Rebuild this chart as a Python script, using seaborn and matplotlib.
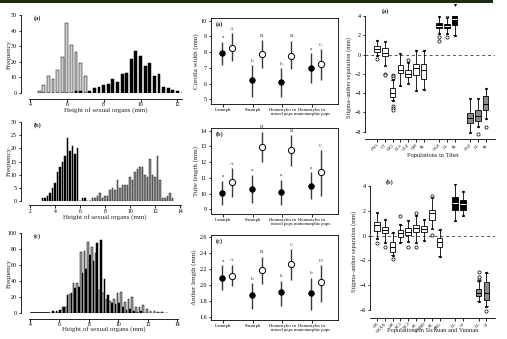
import matplotlib
matplotlib.use("Agg")
import matplotlib.pyplot as plt
from matplotlib.patches import Rectangle
import numpy as np
import pandas as pd
import seaborn as sns

# ---------------- histogram data: bin centres (mm) and counts ----------------
hist_a_light_x = [4.5, 4.75, 5.0, 5.25, 5.5, 5.75, 6.0, 6.25, 6.5, 6.75, 7.0]
hist_a_light_n = [1, 5, 11, 9, 15, 23, 45, 31, 26, 19, 11]
hist_a_dark_x = [6.5, 6.75, 7.25, 7.5, 7.75, 8.0, 8.25, 8.5, 8.75, 9.0, 9.25, 9.5,
                 9.75, 10.0, 10.25, 10.5, 10.75, 11.0, 11.25, 11.5, 11.75, 12.0]
hist_a_dark_n = [1, 1, 1, 3, 4, 5, 6, 9, 7, 12, 13, 22, 27, 24, 17, 19, 11, 12, 4, 3, 2, 1]

hist_b_dark_x = [3.0, 3.2, 3.4, 3.6, 3.8, 4.0, 4.2, 4.4, 4.6, 4.8, 5.0, 5.2, 5.4, 5.6,
                 5.8, 6.2, 6.4]
hist_b_dark_n = [1, 1, 2, 3, 5, 7, 11, 13, 15, 17, 24, 19, 21, 18, 20, 1, 1]
hist_b_grey_x = [7.0, 7.2, 7.4, 7.6, 7.8, 8.0, 8.2, 8.4, 8.6, 8.8, 9.0, 9.2, 9.4, 9.6,
                 9.8, 10.0, 10.2, 10.4, 10.6, 10.8, 11.0, 11.2, 11.4, 11.6, 11.8, 12.0,
                 12.2, 12.4, 12.6, 12.8, 13.0, 13.2, 13.4]
hist_b_grey_n = [1, 1, 2, 3, 1, 2, 2, 4, 5, 4, 8, 5, 6, 6, 6, 9, 8, 11, 12, 13, 13, 10,
                 9, 16, 10, 9, 17, 8, 1, 1, 2, 3, 1]

hist_c_x = [5.5, 5.75, 6.0, 6.25, 6.5, 6.75, 7.0, 7.25, 7.5, 7.75, 8.0, 8.25, 8.5, 8.75,
            9.0, 9.25, 9.5, 9.75, 10.0, 10.25, 10.5, 10.75, 11.0, 11.25, 11.5, 11.75,
            12.0, 12.25, 12.5, 12.75, 13.0, 13.25]
hist_c_grey_n = [0, 0, 1, 7, 7, 24, 38, 37, 76, 78, 89, 83, 75, 29, 25, 18, 15, 18, 25,
                 26, 14, 17, 20, 8, 8, 10, 5, 3, 2, 1, 1, 0]
hist_c_dark_n = [2, 2, 4, 7, 23, 25, 31, 32, 50, 55, 73, 65, 87, 91, 43, 22, 12, 11, 13,
                 8, 4, 5, 2, 1, 2, 0, 0, 0, 0, 0, 0, 0]

# ---------------- floral traits by morph (mean and range) ----------------
groups = ["L-morph", "S-morph", "Homostyles in\nmixed pops", "Homostyles in\nmonomorphic pops"]

corolla_f = [7.92, 6.21, 6.08, 6.97]
corolla_f_lo = [7.18, 5.17, 5.13, 6.02]
corolla_f_hi = [8.67, 7.18, 6.97, 7.92]
corolla_o = [8.28, 7.86, 7.78, 7.25]
corolla_o_lo = [7.46, 6.97, 6.90, 6.23]
corolla_o_hi = [9.19, 8.77, 8.73, 8.18]
corolla_f_let = ["a", "b", "b", "a"]
corolla_o_let = ["A", "B", "B", "C"]

tube_f = [10.06, 10.32, 10.10, 10.47]
tube_f_lo = [9.28, 9.43, 9.30, 9.64]
tube_f_hi = [10.83, 11.20, 10.87, 11.34]
tube_o = [10.76, 12.96, 12.77, 11.36]
tube_o_lo = [9.77, 11.98, 11.76, 9.85]
tube_o_hi = [11.60, 13.94, 13.72, 12.77]
tube_f_let = ["a", "a", "a", "a"]
tube_o_let = ["A", "B", "B", "C"]

anther_f = [2.09, 1.87, 1.91, 1.90]
anther_f_lo = [1.93, 1.70, 1.74, 1.68]
anther_f_hi = [2.24, 2.02, 2.05, 2.09]
anther_o = [2.11, 2.18, 2.26, 2.03]
anther_o_lo = [1.99, 2.01, 2.06, 1.79]
anther_o_hi = [2.25, 2.35, 2.44, 2.24]
anther_f_let = ["a", "b", "b", "b"]
anther_o_let = ["A", "B", "C", "D"]

# ---------------- stigma-anther separation per population ----------------
tib_labels = ["CW1", "CT", "DZ1", "DL1", "GLZ", "QM", "SL", "GGZ", "LL", "SL", "GGZ", "LL", "SL"]
tib_pos = [0, 1, 2, 3, 4, 5, 6, 8, 9, 10, 12, 13, 14]
tib_kind = ["w"] * 7 + ["k"] * 3 + ["g"] * 3
tib_q1 = [0.3, -0.2, -4.4, -1.95, -2.35, -2.1, -2.5, 2.75, 2.75, 3.1, -7.15, -6.85, -5.75]
tib_med = [0.6, 0.15, -4.0, -1.6, -2.0, -1.4, -1.6, 3.0, 2.95, 3.65, -6.6, -6.4, -5.1]
tib_q3 = [0.9, 0.65, -3.5, -1.1, -1.6, -1.0, -1.0, 3.25, 3.15, 4.4, -6.1, -5.75, -4.3]
tib_lo = [0.0, -1.1, -4.75, -3.2, -3.0, -3.7, -3.6, 2.2, 2.2, 2.05, -8.0, -7.4, -6.6]
tib_hi = [1.4, 1.35, -2.6, 0.1, -0.9, 0.4, 0.4, 3.9, 3.75, 5.1, -4.65, -4.65, -3.6]
tib_fliers = [[-0.45], [-2.0, -2.15], [-2.1, -2.25, -2.4, -5.3, -5.5, -5.7], [], [-0.6],
              [], [], [1.85, 1.4], [4.1, 4.35, 1.8], [], [], [-8.25], [-7.5]]

sy_labels = ["DR", "DKXX", "HZ", "KC1", "KC2", "KL", "MXBD", "XC", "ZBG", "DL", "LJ", "DL", "LJ"]
sy_pos = [0, 1, 2, 3, 4, 5, 6, 7, 8, 10, 11, 13, 14]
sy_kind = ["w"] * 9 + ["k"] * 2 + ["g"] * 2
sy_q1 = [0.4, 0.2, -1.3, -0.1, 0.05, 0.32, 0.32, 1.26, -0.9, 2.07, 2.07, -4.86, -5.2]
sy_med = [0.85, 0.45, -0.9, 0.25, 0.3, 0.6, 0.5, 1.8, -0.48, 2.6, 2.55, -4.6, -4.65]
sy_q3 = [1.13, 0.72, -0.55, 0.45, 0.6, 0.86, 0.78, 2.07, -0.2, 3.1, 2.87, -4.32, -3.75]
sy_lo = [-0.2, -0.5, -1.6, -0.5, -0.4, -0.5, -0.35, 0.6, -1.65, 1.26, 1.65, -5.3, -5.7]
sy_hi = [1.8, 1.26, 0.25, 0.85, 1.2, 1.6, 1.26, 3.0, 0.45, 4.1, 3.55, -3.7, -3.05]
sy_fliers = [[-0.6], [-0.9], [-1.9], [1.55], [-0.95], [1.8, -0.95], [], [3.2, 0.05], [],
             [], [], [-3.35, -3.55, -2.95], [-6.1]]

# ---------------- figure ----------------
sns.set_theme(style="ticks")
plt.rcParams["font.family"] = ["Liberation Serif", "DejaVu Serif"]
plt.rcParams.update({
    "font.size": 4.5, "axes.labelsize": 5, "xtick.labelsize": 4.3, "ytick.labelsize": 4.3,
    "axes.linewidth": 0.6, "xtick.major.width": 0.6, "ytick.major.width": 0.6,
    "xtick.major.size": 1.8, "ytick.major.size": 1.8,
    "xtick.major.pad": 1.2, "ytick.major.pad": 1.2, "axes.labelpad": 1.5,
    "axes.edgecolor": "black", "xtick.color": "black", "ytick.color": "black",
})

W, H = 507, 339
fig = plt.figure(figsize=(W / 100, H / 100), dpi=100)
fig.patch.set_facecolor("white")
fig.patches.append(Rectangle((0, 1 - 2.5 / H), 493 / W, 2.5 / H, transform=fig.transFigure,
                             facecolor="#1e2a12", edgecolor="none"))


def px_axes(x0, y0, x1, y1):
    return fig.add_axes([x0 / W, 1 - y1 / H, (x1 - x0) / W, (y1 - y0) / H])


def counts_frame(x, n):
    return pd.DataFrame({"x": x, "n": n})


def hist_style(ax, xlim, xticks, ylim, yticks, label, xlab_y, left_off=6, bottom_off=4):
    ax.set_xlim(*xlim)
    ax.set_ylim(*ylim)
    ax.set_xticks(xticks)
    ax.set_yticks(yticks)
    sns.despine(ax=ax)
    ax.spines["left"].set_position(("outward", left_off))
    ax.spines["bottom"].set_position(("outward", bottom_off))
    ax.tick_params(axis="x", pad=0.8, labelsize=4.1)
    ax.set_xlabel("Height of sexual organs (mm)")
    ax.xaxis.set_label_coords(0.5, xlab_y)
    ax.set_ylabel("Frequency")
    ax.yaxis.set_label_coords(-0.115, 0.5)
    ax.text(0.03, 1.0, label, transform=ax.transAxes, fontsize=4.5, fontweight="bold",
            va="top", ha="left")
    ax.patch.set_alpha(0)


# ---- histogram (a)
ax = px_axes(29, 15, 182, 93)
bins_a = dict(binwidth=0.25, binrange=(4.375, 12.375))
sns.histplot(data=counts_frame(hist_a_light_x, hist_a_light_n), x="x", weights="n",
             shrink=0.62, color="#cfcfcf", edgecolor="black", linewidth=0.35,
             alpha=1, ax=ax, **bins_a)
sns.histplot(data=counts_frame(hist_a_dark_x, hist_a_dark_n), x="x", weights="n",
             shrink=0.62, color="black", edgecolor="black", linewidth=0.35,
             alpha=1, ax=ax, **bins_a)
ax.plot([4.0, 4.4], [0.3, 0.3], color="black", lw=0.6)
hist_style(ax, (3.95, 12.25), [4, 6, 8, 10, 12], (0, 50), [0, 10, 20, 30, 40, 50], "(a)",
           -0.175)

# ---- histogram (b)
ax = px_axes(29, 122, 181, 201)
bins_b = dict(binwidth=0.2, binrange=(2.9, 13.5))
sns.histplot(data=counts_frame(hist_b_dark_x, hist_b_dark_n), x="x", weights="n",
             shrink=0.7, color="black", edgecolor="black", linewidth=0.35,
             alpha=1, ax=ax, **bins_b)
sns.histplot(data=counts_frame(hist_b_grey_x, hist_b_grey_n), x="x", weights="n",
             shrink=0.7, color="#8a8a8a", edgecolor="#222222", linewidth=0.35,
             alpha=1, ax=ax, **bins_b)
hist_style(ax, (1.92, 14.08), [2, 4, 6, 8, 10, 12, 14], (0, 30), [0, 5, 10, 15, 20, 25, 30],
           "(b)", -0.17, bottom_off=3)

# ---- histogram (c)
ax = px_axes(29, 233, 178, 313)
df_c = pd.DataFrame({
    "x": hist_c_x * 2,
    "n": hist_c_grey_n + hist_c_dark_n,
    "organ": ["grey"] * len(hist_c_x) + ["dark"] * len(hist_c_x),
})
sns.histplot(data=df_c, x="x", weights="n", hue="organ", hue_order=["grey", "dark"],
             palette={"grey": "#a6a6a6", "dark": "black"}, multiple="dodge",
             binwidth=0.25, binrange=(5.375, 13.375),
             shrink=0.9, edgecolor="black", linewidth=0.35, alpha=1, legend=False, ax=ax)
ax.plot([4.0, 5.3], [0.8, 0.8], color="black", lw=0.6)
hist_style(ax, (3.93, 14.05), [4, 6, 8, 10, 12, 14], (0, 100), [0, 20, 40, 60, 80, 100], "(c)",
           -0.165)


# ---------------- middle column: means with ranges ----------------
def trait_panel(ax, fm, flo, fhi, om, olo, ohi, flet, olet, ylim, yticks, ylabel, label, fmt):
    xf = np.arange(len(groups)) - 0.03
    xo = np.arange(len(groups)) + 0.3
    ax.vlines(xf, flo, fhi, color="#3a3a3a", lw=1.0, zorder=1)
    ax.vlines(xo, olo, ohi, color="#3a3a3a", lw=1.0, zorder=1)
    sns.scatterplot(x=xf, y=fm, s=16, color="black", edgecolor="black", linewidth=0.6,
                    zorder=3, ax=ax)
    sns.scatterplot(x=xo, y=om, s=20, color="white", edgecolor="black", linewidth=0.7,
                    zorder=3, ax=ax)
    for x, y, t in zip(xf, fhi, flet):
        ax.annotate(t, (x, y), xytext=(0, 1.8), textcoords="offset points", ha="center",
                    va="bottom", fontsize=3.8, color="#333333")
    for x, y, t in zip(xo, ohi, olet):
        ax.annotate(t, (x, y), xytext=(0, 1.8), textcoords="offset points", ha="center",
                    va="bottom", fontsize=3.8, color="#333333")
    ax.set_xlim(-0.42, 3.89)
    ax.set_ylim(*ylim)
    ax.set_yticks(yticks)
    ax.set_yticklabels([fmt.format(v) for v in yticks])
    ax.set_xticks(range(len(groups)))
    ax.set_xticklabels(groups, fontsize=3.3, linespacing=0.95)
    ax.tick_params(axis="x", pad=1.0)
    ax.set_ylabel(ylabel)
    for s in ax.spines.values():
        s.set_visible(True)
        s.set_linewidth(0.6)
    ax.text(0.035, 0.965, label, transform=ax.transAxes, fontsize=4.5, fontweight="bold",
            va="top", ha="left")


ax = px_axes(211, 18, 338, 104)
trait_panel(ax, corolla_f, corolla_f_lo, corolla_f_hi, corolla_o, corolla_o_lo, corolla_o_hi,
            corolla_f_let, corolla_o_let, (4.7, 10.17), [5, 6, 7, 8, 9, 10],
            "Corolla width (mm)", "(a)", "{:.0f}")

ax = px_axes(211, 128, 338, 214)
trait_panel(ax, tube_f, tube_f_lo, tube_f_hi, tube_o, tube_o_lo, tube_o_hi,
            tube_f_let, tube_o_let, (8.7, 14.17), [9, 10, 11, 12, 13, 14],
            "Tube length (mm)", "(b)", "{:.0f}")

ax = px_axes(211, 235, 338, 320)
trait_panel(ax, anther_f, anther_f_lo, anther_f_hi, anther_o, anther_o_lo, anther_o_hi,
            anther_f_let, anther_o_let, (1.56, 2.62), [1.6, 1.8, 2.0, 2.2, 2.4, 2.6],
            "Anther length (mm)", "(c)", "{:.1f}")

# ---------------- right column: box plots ----------------
fills = {"w": "white", "k": "black", "g": "#8c8c8c"}
med_cols = {"w": "black", "k": "white", "g": "black"}


def box_panel(ax, labels, pos, kind, q1, med, q3, lo, hi, fliers, ylim, yticks, xlim,
              xlabel, xlab_xy, label, label_y):
    stats = [dict(q1=a, med=m, q3=b, whislo=l, whishi=h, fliers=f)
             for a, m, b, l, h, f in zip(q1, med, q3, lo, hi, fliers)]
    ax.axhline(0, color="#555555", lw=0.7, ls=(0, (3, 3)), zorder=0)
    arts = ax.bxp(stats, positions=pos, widths=0.72, patch_artist=True, showcaps=True,
                  capwidths=0.3,
                  boxprops=dict(linewidth=0.6, edgecolor="black"),
                  whiskerprops=dict(linewidth=0.6, color="black"),
                  capprops=dict(linewidth=0.6, color="black"),
                  medianprops=dict(linewidth=0.7),
                  flierprops=dict(marker="o", markersize=2.3, markerfacecolor="white",
                                  markeredgecolor="black", markeredgewidth=0.5))
    for patch, k in zip(arts["boxes"], kind):
        patch.set_facecolor(fills[k])
    for line, k in zip(arts["medians"], kind):
        line.set_color(med_cols[k])
    sns.scatterplot(x=pos, y=hi, marker="v", s=5, color="black", linewidth=0, ax=ax,
                    clip_on=False, zorder=4)
    sns.scatterplot(x=pos, y=lo, marker="^", s=5, color="black", linewidth=0, ax=ax,
                    clip_on=False, zorder=4)
    ax.set_xlim(*xlim)
    ax.set_ylim(*ylim)
    ax.set_yticks(yticks)
    ax.set_xticks(pos)
    ax.set_xticklabels(labels, rotation=45, ha="right", rotation_mode="anchor", fontsize=3.2)
    ax.tick_params(axis="x", pad=1.0)
    sns.despine(ax=ax)
    ax.spines["left"].set_bounds(min(yticks), max(yticks))
    ax.set_xlabel(xlabel, fontsize=4.6)
    ax.xaxis.set_label_coords(*xlab_xy)
    ax.set_ylabel("Stigma\u2013anther separation (mm)", fontsize=4.6)
    ax.text(0.13, label_y, label, transform=ax.transAxes, fontsize=4.5, fontweight="bold",
            va="bottom", ha="left")
    ax.patch.set_alpha(0)


ax = px_axes(365, 16, 495, 139)
box_panel(ax, tib_labels, tib_pos, tib_kind, tib_q1, tib_med, tib_q3, tib_lo, tib_hi,
          tib_fliers, (-8.76, 4.0), [-8, -6, -4, -2, 0, 2, 4], (-1.55, 15.2),
          "Populations in Tibet", (0.52, -0.11), "(a)", 1.016)

ax = px_axes(370, 186, 495, 317.7)
box_panel(ax, sy_labels, sy_pos, sy_kind, sy_q1, sy_med, sy_q3, sy_lo, sy_hi,
          sy_fliers, (-6.62, 4.0), [-6, -4, -2, 0, 2, 4], (-0.9, 15.1),
          "Populations in Sichuan and Yunnan", (0.5, -0.075), "(b)", 1.008)

fig.savefig("out.png", dpi=100, facecolor="white")
